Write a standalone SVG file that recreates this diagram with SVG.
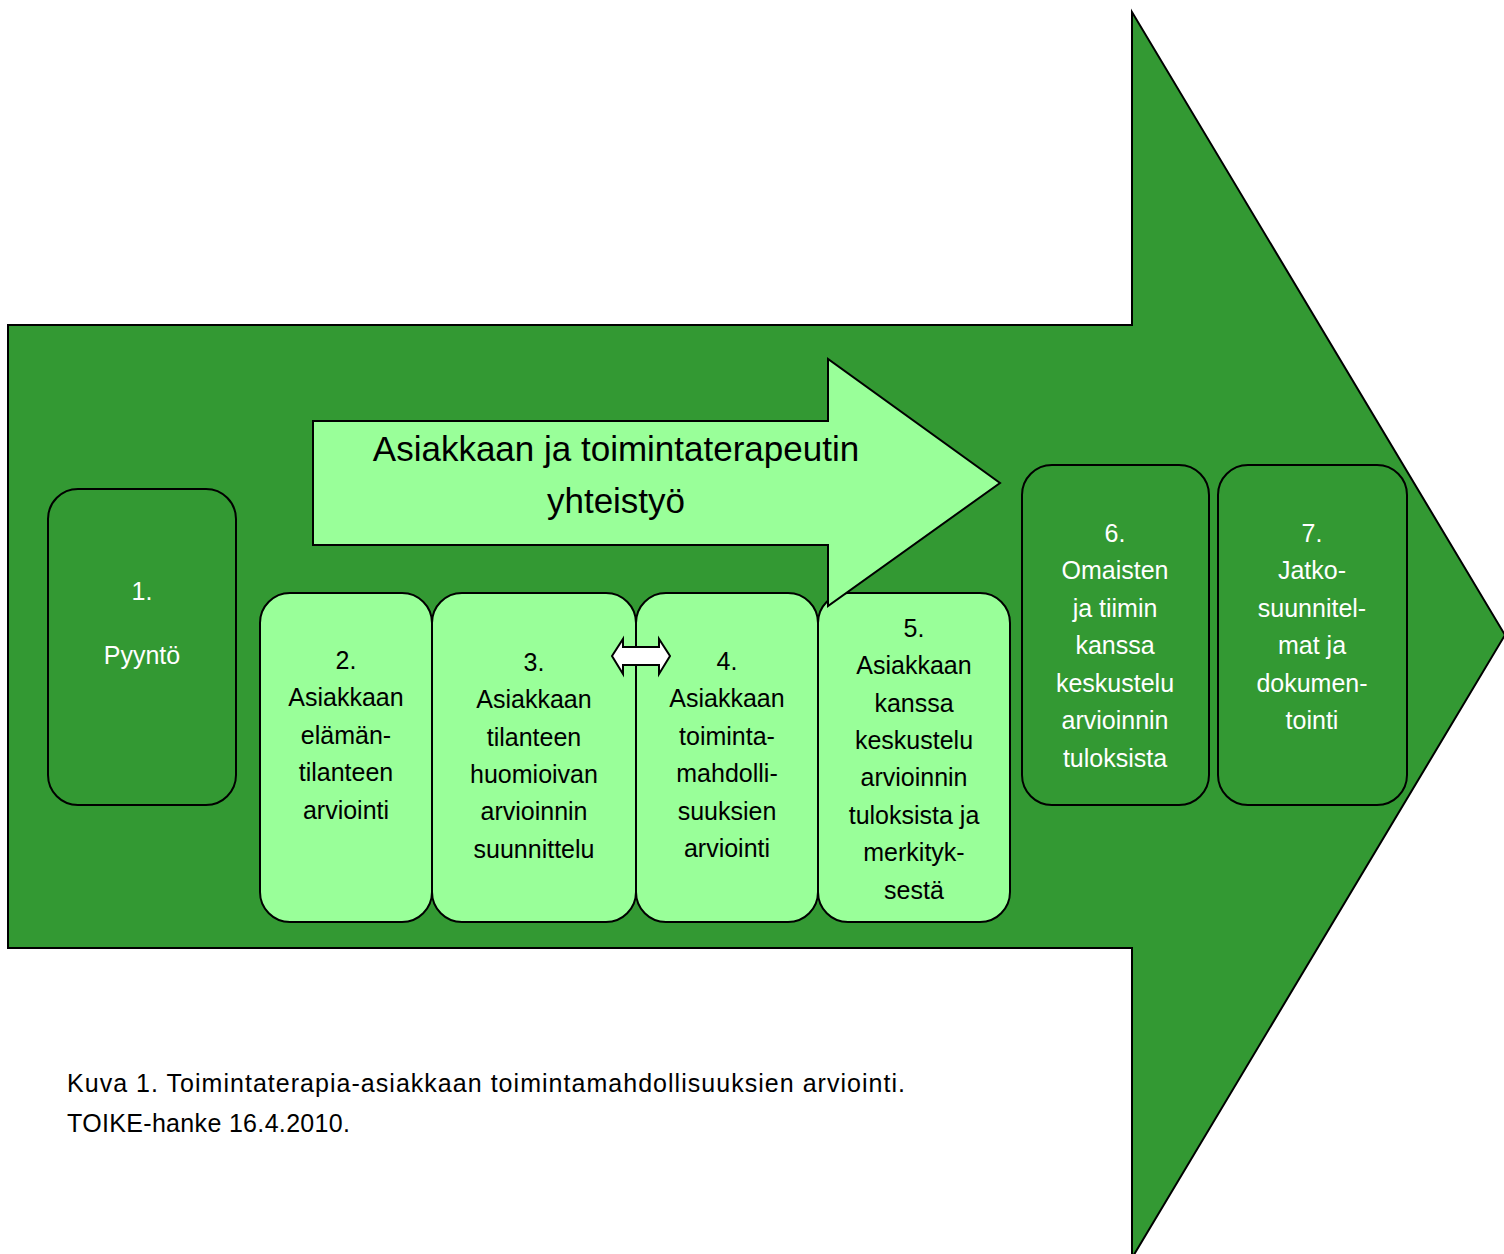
<svg xmlns="http://www.w3.org/2000/svg" width="1504" height="1254" viewBox="0 0 1504 1254">
<style>
.big{fill:#339933;stroke:#000;stroke-width:2}
.dk{fill:#339933;stroke:#000;stroke-width:2}
.lt{fill:#99ff99;stroke:#000;stroke-width:2}
text{font-family:"Liberation Sans",Arial,sans-serif;font-size:25px;text-anchor:middle}
.w{fill:#fff}
.b{fill:#000}
.cap{text-anchor:start;font-size:25px;fill:#000}
.ttl{font-size:35px;fill:#000}
</style>
<rect width="1504" height="1254" fill="#fff"/>
<g id="bigArrow">
<polygon class="big" points="8,325 1132,325 1132,12 1505,635 1132,1258 1132,948 8,948"/>
</g>
<g id="n1"><rect class="dk" x="48" y="489" width="188" height="316" rx="30"/>
<text class="w" x="142" y="600">1.</text><text class="w" x="142" y="664">Pyyntö</text></g>
<g id="n2"><rect class="lt" x="260" y="593" width="172" height="329" rx="30"/>
<text class="b"><tspan x="346" y="669">2.</tspan><tspan x="346" y="706">Asiakkaan</tspan><tspan x="346" y="744">elämän-</tspan><tspan x="346" y="781">tilanteen</tspan><tspan x="346" y="819">arviointi</tspan></text></g>
<g id="n3"><rect class="lt" x="432" y="593" width="204" height="329" rx="30"/>
<text class="b"><tspan x="534" y="671">3.</tspan><tspan x="534" y="708">Asiakkaan</tspan><tspan x="534" y="746">tilanteen</tspan><tspan x="534" y="783">huomioivan</tspan><tspan x="534" y="820">arvioinnin</tspan><tspan x="534" y="858">suunnittelu</tspan></text></g>
<g id="n4"><rect class="lt" x="636" y="593" width="182" height="329" rx="30"/>
<text class="b"><tspan x="727" y="670">4.</tspan><tspan x="727" y="707">Asiakkaan</tspan><tspan x="727" y="745">toiminta-</tspan><tspan x="727" y="782">mahdolli-</tspan><tspan x="727" y="820">suuksien</tspan><tspan x="727" y="857">arviointi</tspan></text></g>
<g id="n5"><rect class="lt" x="818" y="593" width="192" height="329" rx="30"/>
<text class="b"><tspan x="914" y="637">5.</tspan><tspan x="914" y="674">Asiakkaan</tspan><tspan x="914" y="712">kanssa</tspan><tspan x="914" y="749">keskustelu</tspan><tspan x="914" y="786">arvioinnin</tspan><tspan x="914" y="824">tuloksista ja</tspan><tspan x="914" y="861">merkityk-</tspan><tspan x="914" y="899">sestä</tspan></text></g>
<g id="n6"><rect class="dk" x="1022" y="465" width="187" height="340" rx="30"/>
<text class="w"><tspan x="1115" y="542">6.</tspan><tspan x="1115" y="579">Omaisten</tspan><tspan x="1115" y="617">ja tiimin</tspan><tspan x="1115" y="654">kanssa</tspan><tspan x="1115" y="692">keskustelu</tspan><tspan x="1115" y="729">arvioinnin</tspan><tspan x="1115" y="767">tuloksista</tspan></text></g>
<g id="n7"><rect class="dk" x="1218" y="465" width="189" height="340" rx="30"/>
<text class="w"><tspan x="1312" y="542">7.</tspan><tspan x="1312" y="579">Jatko-</tspan><tspan x="1312" y="617">suunnitel-</tspan><tspan x="1312" y="654">mat ja</tspan><tspan x="1312" y="692">dokumen-</tspan><tspan x="1312" y="729">tointi</tspan></text></g>
<g id="collab">
<polygon class="lt" points="313,421 828,421 828,359 1000,483 828,606 828,545 313,545"/>
<text class="ttl"><tspan x="616" y="461">Asiakkaan ja toimintaterapeutin</tspan><tspan x="616" y="513">yhteistyö</tspan></text>
</g>
<g id="connectors">
<polygon points="612,656 623,639 623,647 659,647 659,639 670,656 659,674 659,665 623,665 623,674" fill="#fff" stroke="#000" stroke-width="2"/>
</g>
<g id="caption">
<text class="cap" x="67" y="1092" textLength="838" lengthAdjust="spacing">Kuva 1. Toimintaterapia-asiakkaan toimintamahdollisuuksien arviointi.</text>
<text class="cap" x="67" y="1132" textLength="283" lengthAdjust="spacing">TOIKE-hanke 16.4.2010.</text>
</g>
</svg>
